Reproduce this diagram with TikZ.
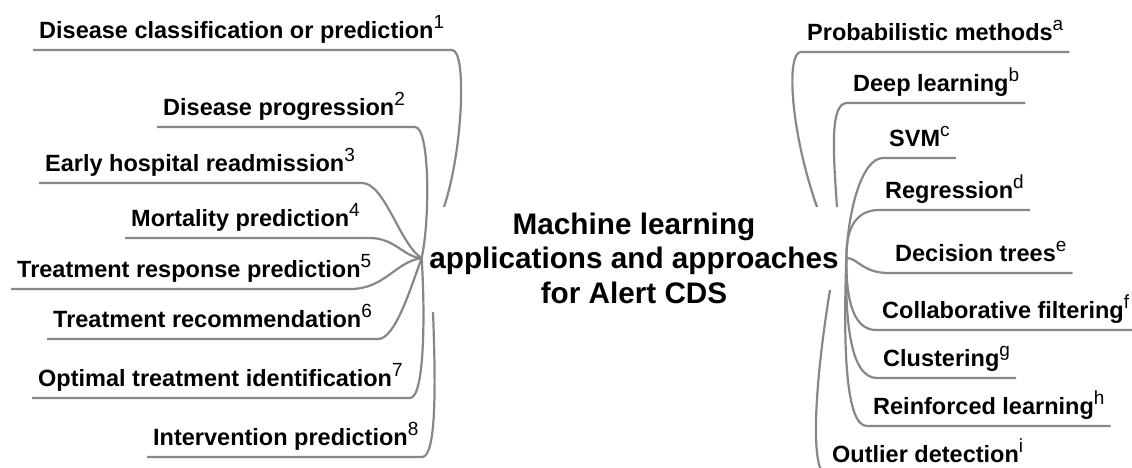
\documentclass[tikz,border=0pt]{standalone}
\usepackage{fontspec}
\setmainfont{Liberation Sans}
\usepackage{tikz}
\definecolor{stemgray}{RGB}{135,135,135}
\newcommand{\refsup}[1]{\raisebox{10pt}{\fontsize{19}{19}\selectfont\mdseries #1}}

\begin{document}
\begin{tikzpicture}[x=1pt,y=-1pt,
  leaf/.style={anchor=south west,inner xsep=6pt,inner ysep=0pt,text depth=11pt,
    font=\fontsize{23.5}{27}\selectfont\bfseries},
  stem/.style={draw=stemgray,line width=2.2pt}]
\path[use as bounding box] (0,0) rectangle (1132,467);
\clip (0,0) rectangle (1132,467);

\node[align=center,inner xsep=7.5pt,font=\fontsize{29.7}{34.5}\selectfont\bfseries] (root) at (634,258)
  {Machine learning\\applications and approaches\\for Alert CDS};

\node[leaf] (l1) at (33,50) {Disease classification or prediction\refsup{1}};
\node[leaf] (l2) at (157,127) {Disease progression\refsup{2}};
\node[leaf] (l3) at (39,183) {Early hospital readmission\refsup{3}};
\node[leaf] (l4) at (125,238) {Mortality prediction\refsup{4}};
\node[leaf] (l5) at (11,289) {Treatment response prediction\refsup{5}};
\node[leaf] (l6) at (47,339) {Treatment recommendation\refsup{6}};
\node[leaf] (l7) at (32,398) {Optimal treatment identification\refsup{7}};
\node[leaf] (l8) at (147,457) {Intervention prediction\refsup{8}};

\node[leaf] (ra) at (801,52) {Probabilistic methods\refsup{a}};
\node[leaf] (rb) at (847,103) {Deep learning\refsup{b}};
\node[leaf] (rc) at (883,158) {SVM\refsup{c}};
\node[leaf] (rd) at (879,210) {Regression\refsup{d}};
\node[leaf] (re) at (889,273) {Decision trees\refsup{e}};
\node[leaf] (rf) at (876,330) {Collaborative filtering\refsup{f}};
\node[leaf] (rg) at (877,378) {Clustering\refsup{g}};
\node[leaf] (rh) at (867,426) {Reinforced learning\refsup{h}};
\node[leaf] (ri) at (826,474) {Outlier detection\refsup{i}};

\coordinate (cut1) at (444,207);
\coordinate (cut8) at (433,312);
\coordinate (cuta) at (817,207);
\coordinate (cutb) at (837,207);
\coordinate (cuti) at (830,290);

\draw[stem] (l1.south west) -- (452,50) .. controls (467,50) and (463,150) .. (cut1);
\draw[stem] (l2.south west) -- (415,127) .. controls (430,127) and (430,220) .. (root.west);
\draw[stem] (l3.south west) -- (362,183) .. controls (385,183) and (400,245) .. (root.west);
\draw[stem] (l4.south west) -- (370,238) .. controls (395,238) and (405,258) .. (root.west);
\draw[stem] (l5.south west) -- (350,289) .. controls (385,289) and (395,262) .. (root.west);
\draw[stem] (l6.south west) -- (378,339) .. controls (395,339) and (410,290) .. (root.west);
\draw[stem] (l7.south west) -- (410,398) .. controls (425,398) and (425,310) .. (root.west);
\draw[stem] (l8.south west) -- (422,457) .. controls (436,457) and (436,390) .. (cut8);

\draw[stem] (ra.south east) -- (ra.south west) .. controls (786,52) and (790,130) .. (cuta);
\draw[stem] (rb.south east) -- (rb.south west) .. controls (830,103) and (833,150) .. (cutb);
\draw[stem] (rc.south east) -- (rc.south west) .. controls (862,158) and (848,210) .. (root.east);
\draw[stem] (rd.south east) -- (rd.south west) .. controls (852,210) and (846,235) .. (root.east);
\draw[stem] (re.south east) -- (re.south west) .. controls (862,273) and (858,258) .. (root.east);
\draw[stem] (rf.south east) -- (rf.south west) .. controls (850,330) and (846,290) .. (root.east);
\draw[stem] (rg.south east) -- (rg.south west) .. controls (850,378) and (845,320) .. (root.east);
\draw[stem] (rh.south east) -- (rh.south west) .. controls (846,426) and (843,350) .. (root.east);
\draw[stem] (ri.south east) -- (ri.south west) .. controls (812,474) and (812,400) .. (cuti);
\end{tikzpicture}
\end{document}
